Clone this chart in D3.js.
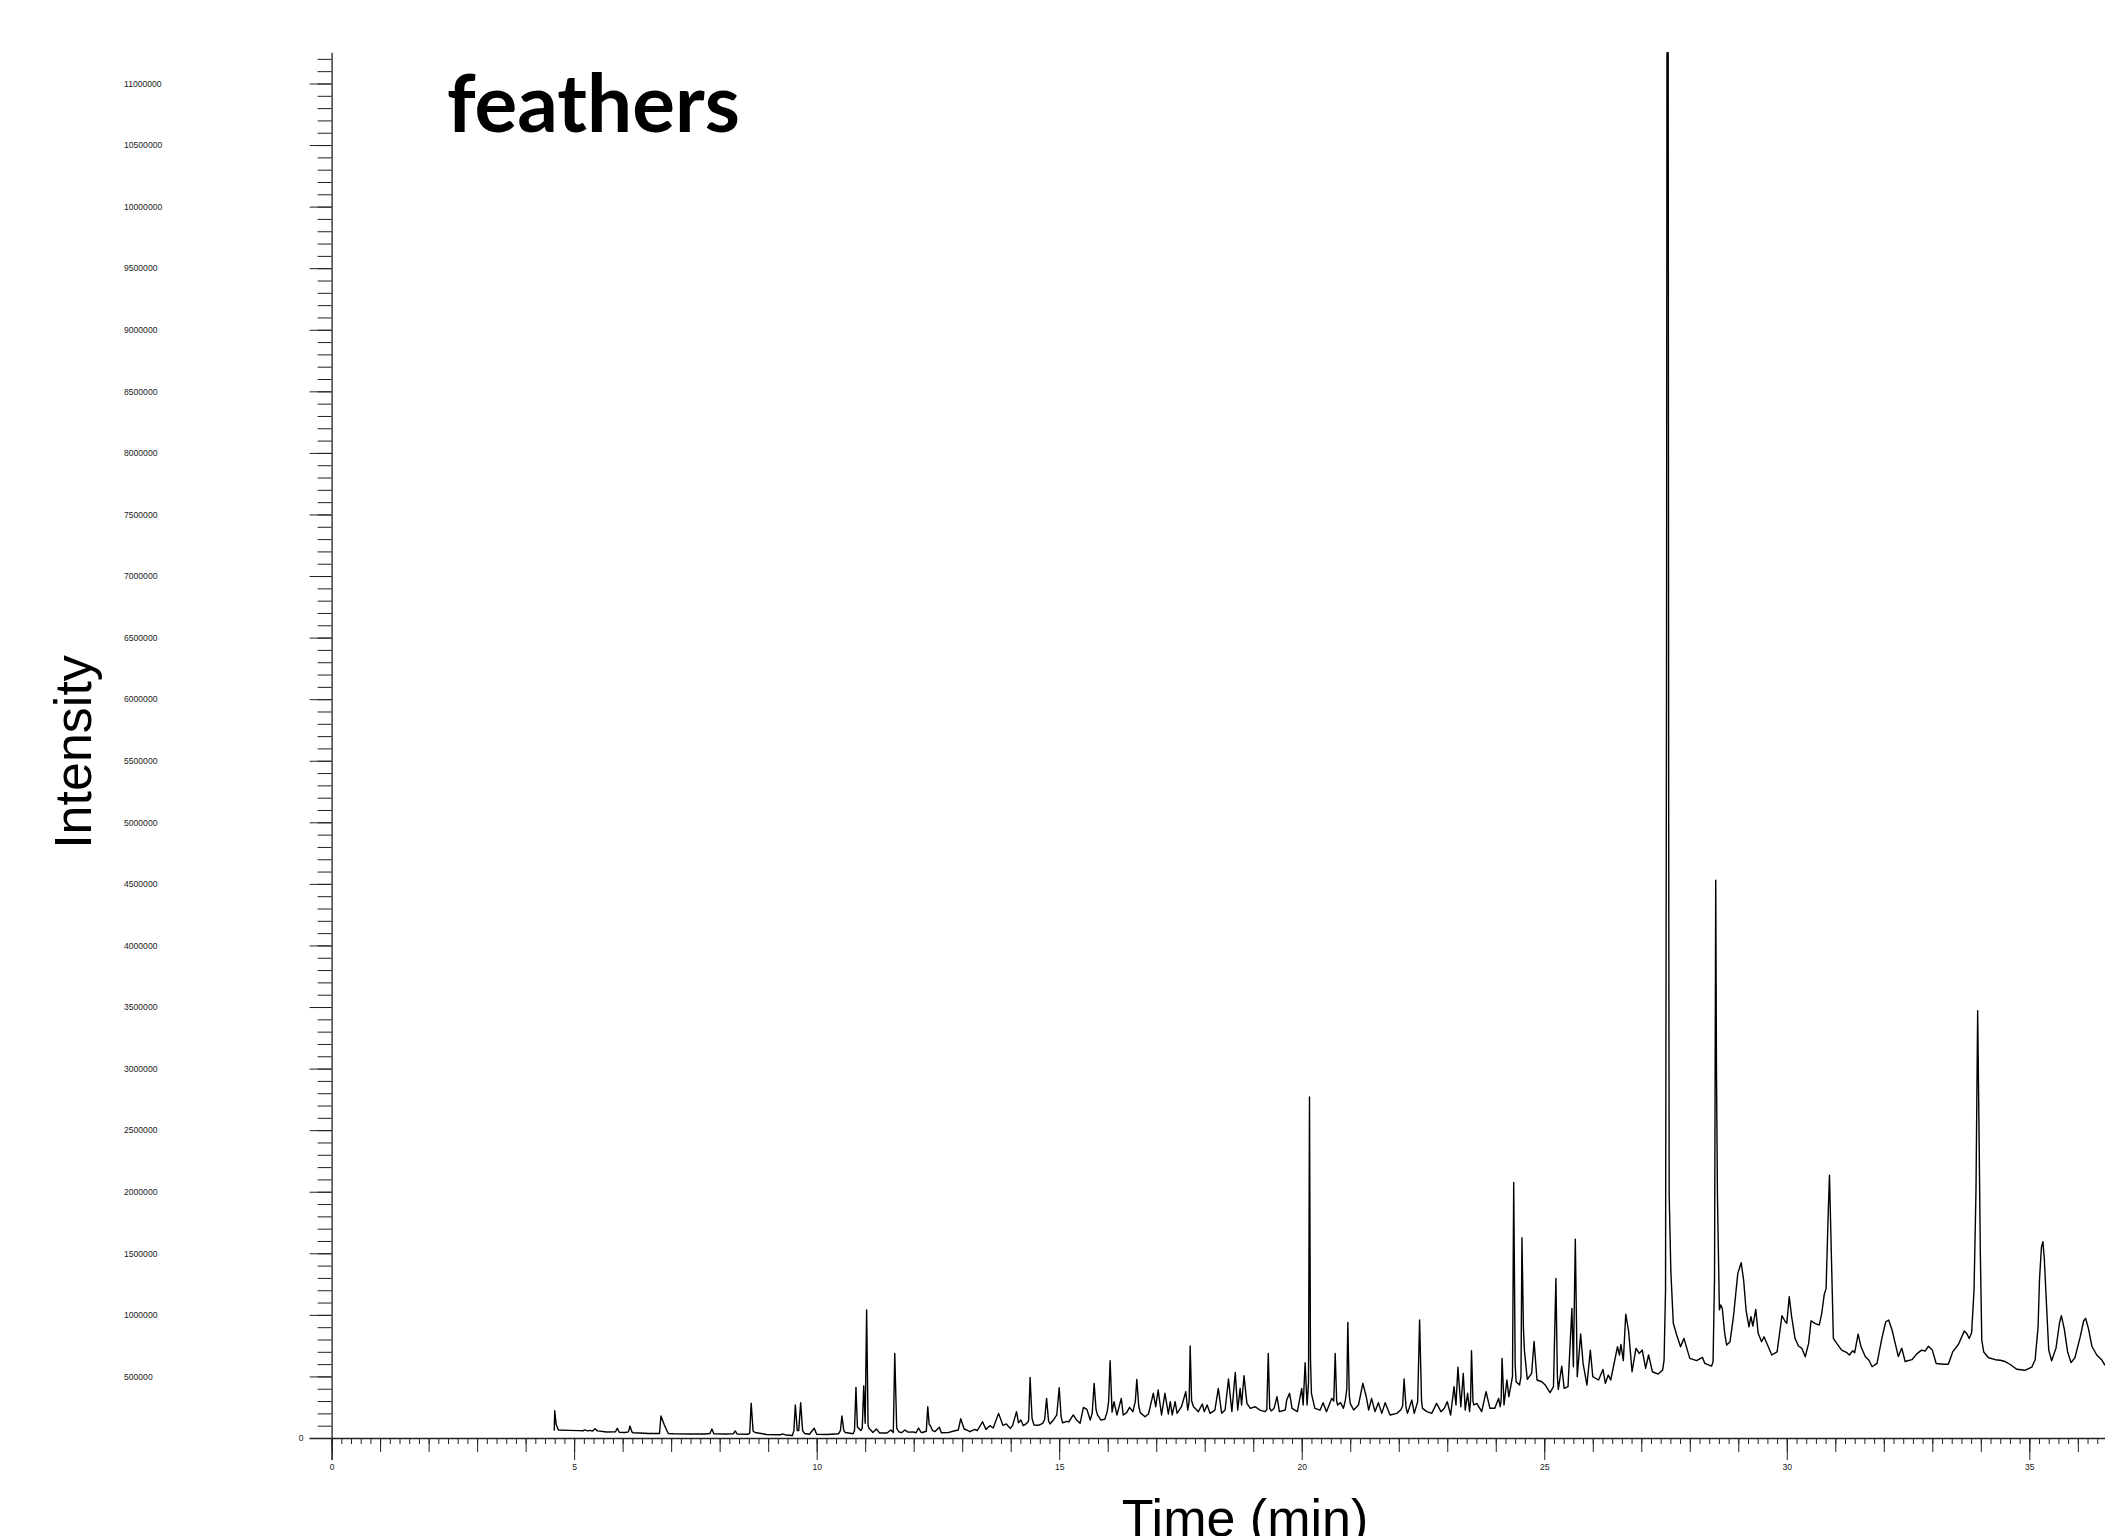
<!DOCTYPE html>
<html>
<head>
<meta charset="utf-8">
<script src="https://cdn.jsdelivr.net/npm/d3@7"></script>
<style>
  body { margin: 0; background: #fff; }
</style>
</head>
<body>
<div id="chart"></div>
<script>
// chromatogram: [retention time (min), intensity (thousand counts)]
const traceA = [
  [4.59,60],[4.60,221],[4.63,110],[4.675,65],[4.90,62],[5.10,60],[5.19,59],[5.21,66],[5.28,58],[5.33,62],
  [5.38,56],[5.43,75],[5.48,58],[5.67,49],[5.85,50],[5.89,79],[5.93,47],[6.05,45],[6.12,50],[6.15,97],
  [6.19,50],[6.22,42],[6.35,40],[6.53,37],[6.76,37],[6.79,179],[6.86,105],[6.94,37],[7.05,35],[7.39,32],
  [7.70,33],[7.80,36],[7.84,73],[7.88,34],[8.14,32],[8.28,34],[8.32,57],[8.36,33],[8.59,31],[8.62,40],
  [8.65,282],[8.69,55],[8.73,45],[8.97,28],[9.25,26],[9.30,34],[9.37,24],[9.50,20],[9.53,60],[9.56,268],
  [9.60,60],[9.63,60],[9.67,287],[9.71,60],[9.75,37],[9.85,30],[9.95,79],[10.00,30],[10.21,28],[10.45,34],
  [10.49,60],[10.52,179],[10.56,60],[10.59,45],[10.75,35],[10.78,60],[10.81,411],[10.84,90],[10.88,73],[10.91,60],
  [10.94,80],[10.97,422],[11.00,120],[11.03,1040],[11.06,100],[11.08,79],[11.16,45],[11.23,73],[11.30,40],[11.45,40],
  [11.53,65],[11.58,45],[11.61,687],[11.65,80],[11.69,51]
];
const traceB = [
  [11.75,43],[11.82,65],[11.88,48],[11.99,50],[12.05,43],[12.10,81],[12.15,47],[12.18,45],[12.26,55],[12.29,254],
  [12.32,110],[12.34,103],[12.39,60],[12.44,52],[12.53,87],[12.57,43],[12.71,44],[12.85,59],[12.92,65],[12.97,157],
  [13.04,73],[13.09,65],[13.16,51],[13.26,70],[13.31,60],[13.42,132],[13.49,70],[13.57,100],[13.64,81],[13.75,200],
  [13.84,103],[13.91,114],[13.99,78],[14.04,103],[14.12,214],[14.16,124],[14.21,146],[14.26,100],[14.33,119],[14.37,140],
  [14.40,492],[14.44,160],[14.48,105],[14.57,103],[14.66,119],[14.70,150],[14.74,322],[14.78,140],[14.81,114],[14.88,146],
  [14.95,187],[15.00,408],[15.04,170],[15.07,124],[15.16,135],[15.20,132],[15.29,187],[15.36,146],[15.43,119],[15.50,249],
  [15.57,233],[15.64,146],[15.68,200],[15.72,444],[15.76,230],[15.79,187],[15.86,146],[15.94,152],[15.99,214],[16.02,300],
  [16.05,628],[16.09,210],[16.13,295],[16.19,187],[16.28,322],[16.32,187],[16.39,206],[16.45,249],[16.52,214],[16.57,300],
  [16.60,476],[16.64,260],[16.67,206],[16.77,173],[16.84,195],[16.94,363],[16.99,254],[17.04,390],[17.11,187],[17.18,363],
  [17.25,195],[17.29,295],[17.33,187],[17.39,295],[17.43,200],[17.52,254],[17.61,376],[17.65,227],[17.68,300],[17.70,747],
  [17.73,300],[17.77,254],[17.87,214],[17.95,276],[17.99,214],[18.05,268],[18.11,200]
];
const traceC = [
  [18.21,227],[18.28,403],[18.35,200],[18.42,227],[18.49,479],[18.56,214],[18.63,533],[18.68,227],[18.73,403],[18.76,268],
  [18.81,506],[18.87,281],[18.94,241],[19.04,254],[19.14,227],[19.24,214],[19.28,230],[19.31,687],[19.34,240],[19.37,220],
  [19.43,241],[19.49,335],[19.54,214],[19.66,227],[19.69,308],[19.75,363],[19.80,241],[19.91,214],[20.00,403],[20.03,268],
  [20.07,611],[20.11,268],[20.14,450],[20.16,2770],[20.18,650],[20.20,363],[20.27,241],[20.38,227],[20.44,287],[20.51,214],
  [20.62,322],[20.66,300],[20.69,687],[20.72,300],[20.74,268],[20.80,287],[20.86,241],[20.90,308],[20.93,400],[20.95,939],
  [20.98,350],[21.00,281],[21.07,227],[21.17,268],[21.26,444],[21.33,335],[21.38,227],[21.44,322],[21.51,214],[21.58,287],
  [21.65,200],[21.72,287],[21.82,187],[21.96,200],[22.04,227],[22.08,260],[22.11,479],[22.15,250],[22.18,200],[22.27,308],
  [22.32,200],[22.39,295],[22.43,958],[22.47,300],[22.49,241],[22.58,214],[22.68,200],[22.78,281],[22.87,214],[22.94,241],
  [23.00,295],[23.07,187],[23.14,417],[23.18,268],[23.22,574],[23.28,254],[23.33,525],[23.37,227],[23.42,363],[23.46,214],
  [23.48,300],[23.50,709],[23.53,300],[23.55,268],[23.61,281],[23.71,214],[23.80,376],[23.88,241],[23.98,241],[24.06,322]
];
const traceD = [
  [24.09,254],[24.11,300],[24.13,647],[24.17,268],[24.23,471],[24.27,335],[24.32,444],[24.345,500],[24.37,2075],[24.40,600],
  [24.42,457],[24.49,430],[24.52,500],[24.54,1626],[24.57,900],[24.59,714],[24.65,476],[24.74,525],[24.79,785],[24.85,471],
  [24.95,457],[25.02,430],[25.12,368],[25.19,417],[25.24,1296],[25.27,500],[25.29,395],[25.36,584],[25.41,403],[25.49,417],
  [25.57,1053],[25.60,579],[25.64,1615],[25.68,498],[25.75,844],[25.80,606],[25.88,430],[25.95,714],[26.00,498],[26.12,471],
  [26.21,557],[26.26,444],[26.32,511],[26.37,471],[26.51,741],[26.55,674],[26.58,760],[26.63,628],[26.68,1006],[26.74,863],
  [26.81,538],[26.89,728],[26.96,687],[27.02,714],[27.09,566],[27.15,674],[27.23,538],[27.35,519],[27.44,552],[27.47,633]
];
const traceE = [
  [27.50,1200],[27.52,6000],[27.53,11250],[27.555,11250],[27.565,5000],[27.575,1974],[27.61,1351],[27.66,932],[27.73,836],[27.81,741],
  [27.88,809],[27.95,714],[28.00,647],[28.14,628],[28.26,655],[28.31,606],[28.45,584],[28.48,620],[28.51,1300],[28.535,4530],
  [28.55,3000],[28.57,1974],[28.61,1041],[28.64,1080],[28.67,1052],[28.72,850],[28.76,755],[28.83,782],[28.90,985],[28.99,1337],
  [29.06,1423],[29.11,1283],[29.16,1039],[29.22,903],[29.26,985],[29.30,909],[29.36,1044],[29.41,850],[29.48,782],[29.53,822],
  [29.59,768],[29.69,674],[29.80,700],[29.90,993],[29.97,944],[30.00,931],[30.05,1147],[30.10,985],[30.17,809],[30.24,747],
  [30.31,728],[30.38,660],[30.45,768],[30.50,952],[30.58,931],[30.67,917],[30.72,1012],[30.77,1161],[30.81,1215],[30.86,1905],
  [30.88,2135],[30.91,1634],[30.96,809],[31.03,768],[31.13,714],[31.24,693],[31.29,674],[31.36,709],[31.40,693],[31.47,844],
  [31.53,741],[31.62,660],[31.69,633],[31.76,579],[31.86,606],[31.96,809],[32.04,944],[32.10,958],[32.17,877],[32.24,761]
];
const traceF = [
  [32.30,661],[32.37,730],[32.44,621],[32.58,636],[32.68,683],[32.78,714],[32.85,705],[32.92,745],[33.00,714],[33.08,605],
  [33.23,599],[33.33,599],[33.42,699],[33.54,761],[33.66,870],[33.71,848],[33.76,808],[33.81,854],[33.86,1200],[33.90,2000],
  [33.935,3470],[33.96,2600],[33.99,1500],[34.02,792],[34.06,699],[34.16,652],[34.30,636],[34.40,631],[34.50,621],[34.60,599],
  [34.74,558],[34.91,550],[35.05,575],[35.12,636],[35.18,900],[35.21,1290],[35.25,1550],[35.28,1594],[35.31,1450],[35.34,1196],
  [35.40,714],[35.46,627],[35.55,730],[35.62,930],[35.66,994],[35.72,886],[35.79,699],[35.86,612],[35.94,652],[36.05,823],
  [36.12,950],[36.16,972],[36.22,886],[36.29,745],[36.39,674],[36.49,636],[36.56,590]
];
const trace = [...traceA, ...traceB, ...traceC, ...traceD, ...traceE, ...traceF];

const xMajorTicks = [0, 5, 10, 15, 20, 25, 30, 35];
const yMajorTicks = [0, 500000, 1000000, 1500000, 2000000, 2500000, 3000000, 3500000, 4000000,
  4500000, 5000000, 5500000, 6000000, 6500000, 7000000, 7500000, 8000000, 8500000, 9000000,
  9500000, 10000000, 10500000, 11000000];
const title = "feathers";
const xTitle = "Time (min)";
const yTitle = "Intensity";

const width = 2105;
const height = 1536;
const origin = { x: 331.6, y: 1438 };
const xMax = 36.56;
const yMax = 11250000;
const axisColor = "#222";

const svg = d3.select("#chart")
  .append("svg")
  .attr("width", width)
  .attr("height", height);

const x = d3.scaleLinear().domain([0, xMax]).range([origin.x, width]);
const y = d3.scaleLinear().domain([0, yMax]).range([origin.y, 52.7]);

const styleAxis = g => {
  g.select(".domain").remove();
  g.selectAll("line").attr("stroke", axisColor);
  g.attr("font-size", 8.6)
    .attr("font-family", "'Liberation Sans', Arial, sans-serif");
  g.selectAll("text").attr("fill", "#1a1a1a");
};

// y axis: minor every 100k, major every 500k
svg.append("g")
  .attr("transform", `translate(${origin.x},0)`)
  .call(d3.axisLeft(y)
    .tickValues(d3.range(0, 11200001, 100000))
    .tickSize(14).tickSizeOuter(0).tickFormat(""))
  .call(styleAxis);

svg.append("g")
  .attr("transform", `translate(${origin.x},0)`)
  .call(d3.axisLeft(y)
    .tickValues(yMajorTicks)
    .tickSize(22).tickSizeOuter(0).tickFormat(d3.format("d")))
  .call(styleAxis)
  .selectAll("text")
  .attr("x", d => d === 0 ? -28 : 124 - origin.x)
  .attr("text-anchor", d => d === 0 ? "end" : "start");

// x axis: 0.2 min, 1 min, 5 min ticks
svg.append("g")
  .attr("transform", `translate(0,${origin.y})`)
  .call(d3.axisBottom(x)
    .tickValues(d3.range(0, xMax, 0.2))
    .tickSize(6).tickSizeOuter(0).tickFormat(""))
  .call(styleAxis);

svg.append("g")
  .attr("transform", `translate(0,${origin.y})`)
  .call(d3.axisBottom(x)
    .tickValues(d3.range(0, xMax, 1))
    .tickSize(14).tickSizeOuter(0).tickFormat(""))
  .call(styleAxis);

svg.append("g")
  .attr("transform", `translate(0,${origin.y})`)
  .call(d3.axisBottom(x)
    .tickValues(xMajorTicks)
    .tickSize(22).tickSizeOuter(0).tickPadding(4).tickFormat(d3.format("d")))
  .call(styleAxis);

// axis lines
svg.append("line")
  .attr("x1", origin.x - 22).attr("x2", width)
  .attr("y1", origin.y + 0.5).attr("y2", origin.y + 0.5)
  .attr("stroke", axisColor).attr("stroke-width", 1.3);
svg.append("line")
  .attr("x1", origin.x + 0.5).attr("x2", origin.x + 0.5)
  .attr("y1", y(yMax)).attr("y2", origin.y + 22)
  .attr("stroke", axisColor).attr("stroke-width", 1.3);

// trace
const line = d3.line()
  .x(d => x(d[0]))
  .y(d => y(d[1] * 1000));

svg.append("path")
  .datum(trace)
  .attr("d", line)
  .attr("fill", "none")
  .attr("stroke", "#000")
  .attr("stroke-width", 1.4)
  .attr("stroke-linejoin", "round");

// titles
svg.append("text")
  .attr("x", 447)
  .attr("y", 132)
  .attr("font-family", "Lato, 'Open Sans', sans-serif")
  .attr("font-weight", 700)
  .attr("font-size", 80)
  .text(title);

svg.append("text")
  .attr("transform", `translate(91,752) rotate(-90)`)
  .attr("text-anchor", "middle")
  .attr("font-family", "'Liberation Sans', Arial, sans-serif")
  .attr("font-size", 52)
  .text(yTitle);

svg.append("text")
  .attr("x", 1245)
  .attr("y", 1536)
  .attr("text-anchor", "middle")
  .attr("font-family", "'Liberation Sans', Arial, sans-serif")
  .attr("font-size", 52)
  .text(xTitle);
</script>
</body>
</html>
